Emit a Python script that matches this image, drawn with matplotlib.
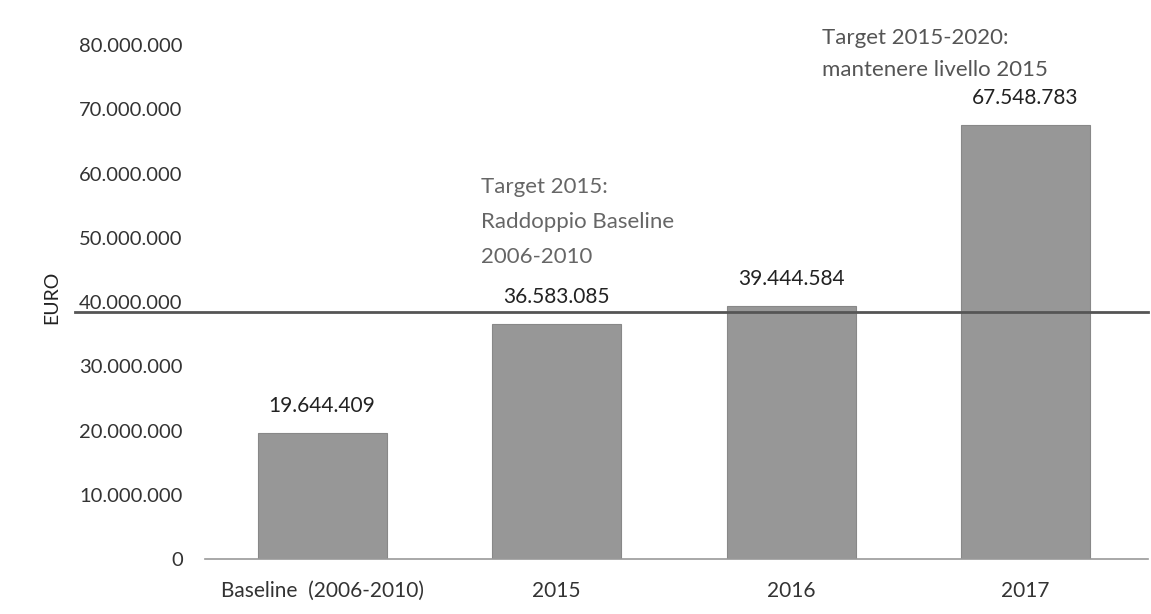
import matplotlib.pyplot as plt

# data
categories = ["Baseline  (2006-2010)", "2015", "2016", "2017"]
values = [19644409, 36583085, 39444584, 67548783]
value_labels = ["19.644.409", "36.583.085", "39.444.584", "67.548.783"]
target_level = 38450000  # drawn target line (approx. raddoppio baseline)
y_ticks = [0, 10000000, 20000000, 30000000, 40000000, 50000000, 60000000, 70000000, 80000000]
y_tick_labels = ["0", "10.000.000", "20.000.000", "30.000.000", "40.000.000",
                 "50.000.000", "60.000.000", "70.000.000", "80.000.000"]
note_2015 = "Target 2015:\nRaddoppio Baseline\n2006-2010"
note_2020 = "Target 2015-2020:\nmantenere livello 2015"

plt.rcParams["font.family"] = ["Lato", "DejaVu Sans"]

fig = plt.figure(figsize=(11.51, 6.14), dpi=100)
ax = fig.add_axes([0.178, 0.0896, 0.819, 0.837])

x = list(range(len(categories)))
ax.bar(x, values, width=0.55, color="#979797", edgecolor="#888888", linewidth=0.8, zorder=2)

# value labels above bars
for xi, v, lab in zip(x, values, value_labels):
    ax.annotate(lab, (xi, v), xytext=(0, 12), textcoords="offset points",
                ha="center", va="bottom", fontsize=15, color="#222222")

# target line, starts under the tick labels
ax.axhline(target_level, xmin=-0.138, xmax=1.0, color="#555555", linewidth=2,
           zorder=3, clip_on=False)

ax.text(0.677, 59500000, note_2015, ha="left", va="top", fontsize=16,
        color="#666666", linespacing=1.93)
ax.text(2.13, 82600000, note_2020, ha="left", va="top", fontsize=16,
        color="#555555", linespacing=1.72)

ax.set_xlim(-0.5, 3.52)
ax.set_ylim(0, 80000000)
ax.set_xticks(x)
ax.set_xticklabels(categories, fontsize=15, color="#333333")
ax.set_yticks(y_ticks)
ax.set_yticklabels(y_tick_labels, fontsize=14.5, color="#333333")
ax.tick_params(axis="both", length=0)
ax.tick_params(axis="y", pad=16)
ax.tick_params(axis="x", pad=16)

for side in ["top", "right", "left"]:
    ax.spines[side].set_visible(False)
ax.spines["bottom"].set_color("#999999")
ax.spines["bottom"].set_linewidth(1.2)

fig.text(0.045, 0.515, "EURO", rotation=90, ha="center", va="center",
         fontsize=14, color="#222222")

fig.savefig("out.png", dpi=100)
